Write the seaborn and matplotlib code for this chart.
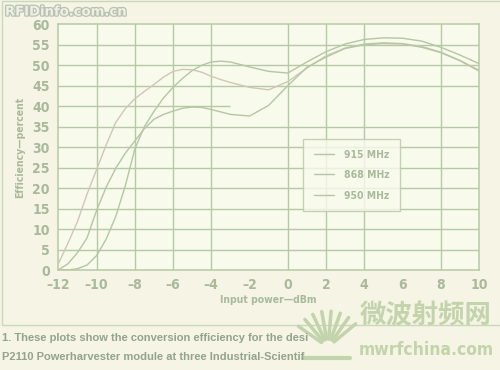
import numpy as np
import pandas as pd
import seaborn as sns
import matplotlib
matplotlib.use("Agg")
import matplotlib.pyplot as plt
import matplotlib.patheffects as pe
from matplotlib.patches import Rectangle
from matplotlib import font_manager

# input power (dBm) sample points
power = [-12, -11.5, -11, -10.5, -10, -9.5, -9, -8.5, -8, -7.5, -7, -6.5, -6,
         -5.5, -5, -4.5, -4, -3.5, -3, -2, -1, 0, 1, 2, 3, 4, 5, 6, 7, 8, 9, 10]

eff_915 = [0, 0, 0.3, 1.2, 3.5, 7.5, 13, 20.5, 29.5, 35, 38.7, 42, 44.6,
           46.8, 48.7, 50, 50.8, 51, 50.8, 49.6, 48.5, 48.1, 50.8, 53.3, 55.2,
           56.3, 56.7, 56.6, 55.9, 54.4, 52.5, 50.4]
eff_868 = [1.5, 6.5, 11.8, 18.5, 24.5, 30.5, 36, 39.4, 41.8, 43.6, 45.3, 47.1, 48.5,
           49, 48.9, 48.3, 47.3, 46.5, 45.8, 44.6, 44.0, 46.0, 49.3, 52.3, 54.2,
           55.2, 55.5, 55.3, 54.6, 53.2, 51.2, 48.8]
eff_950 = [0, 1.5, 4.2, 7.8, 14.5, 20.2, 24.8, 28.5, 31.5, 34.5, 36.8, 38, 38.8,
           39.5, 39.8, 39.7, 39.2, 38.6, 38.0, 37.6, 40.2, 45.0, 49.5, 52.0, 54.1,
           55.0, 55.3, 55.2, 54.4, 53.1, 51.1, 48.6]

labels = ["915 MHz", "868 MHz", "950 MHz"]
x_ticks = [-12, -10, -8, -6, -4, -2, 0, 2, 4, 6, 8, 10]
x_tick_labels = ["\u201312", "\u201310", "\u20138", "\u20136", "\u20134", "\u20132",
                 "0", "2", "4", "6", "8", "10"]
y_ticks = list(range(0, 65, 5))

df = pd.concat([
    pd.DataFrame({"power": power, "eff": eff_915, "freq": labels[0]}),
    pd.DataFrame({"power": power, "eff": eff_868, "freq": labels[1]}),
    pd.DataFrame({"power": power, "eff": eff_950, "freq": labels[2]}),
])

outer_bg = "#f5f4e5"
plot_bg = "#f8faec"
grid_c = "#b6c9a6"
text_c = "#a9b99b"
palette = {labels[0]: "#b4c6a4", labels[1]: "#cfc7b6", labels[2]: "#b4c6a4"}

sns.set_style("white")
plt.rcParams["font.family"] = ["DejaVu Sans"]
plt.rcParams["font.stretch"] = "condensed"
narrow = font_manager.FontProperties(family="DejaVu Sans", stretch="condensed", weight="bold")

fig = plt.figure(figsize=(5, 3.7), dpi=100, facecolor=outer_bg)
ax = fig.add_axes([58.3 / 500, 1 - 270 / 370, (479 - 58.3) / 500, (270 - 24.3) / 370])
ax.set_facecolor(plot_bg)

# grid drawn by hand: the reference skips a few lines
for xv in [-10, -8, -6, -4, 0, 2, 4, 8]:
    ax.axvline(xv, color=grid_c, lw=1.0, zorder=1)
for yv in [5, 10, 15, 20, 25, 30, 35, 45, 50, 55]:
    ax.axhline(yv, color=grid_c, lw=1.0, zorder=1)
ax.hlines(40, -12, -3, color=grid_c, lw=1.0, zorder=1)

sns.lineplot(data=df, x="power", y="eff", hue="freq", palette=palette,
             estimator=None, linewidth=1.0, ax=ax, zorder=3)

ax.set_xlim(-12, 10)
ax.set_ylim(0, 60)
ax.set_xticks(x_ticks)
ax.set_xticklabels(x_tick_labels)
ax.set_yticks(y_ticks)
ax.tick_params(length=0, pad=6, labelcolor=text_c)
for t in ax.get_xticklabels() + ax.get_yticklabels():
    t.set_fontproperties(narrow)
    t.set_fontsize(10)
for s in ax.spines.values():
    s.set_color(grid_c)
    s.set_linewidth(1.1)

ax.set_xlabel("Input power\u2014dBm", fontsize=7.5, color=text_c, fontweight="bold",
              fontstretch="condensed", labelpad=2)
ax.set_ylabel("Efficiency\u2014percent", fontsize=7.5, color=text_c, fontweight="bold",
              fontstretch="condensed", labelpad=5)

leg = ax.legend(loc="upper left", bbox_to_anchor=(0.582, 0.532), frameon=True,
                fancybox=False, prop=font_manager.FontProperties(
                    family="DejaVu Sans", stretch="condensed", weight="bold", size=7.5),
                handlelength=2.0, handletextpad=0.9,
                labelspacing=1.0, borderpad=1.0, borderaxespad=0)
leg.get_frame().set_edgecolor(grid_c)
leg.get_frame().set_facecolor(plot_bg)
leg.get_frame().set_linewidth(1.0)
for t in leg.get_texts():
    t.set_color(text_c)
for h in leg.get_lines():
    h.set_color("#b4c6a4")

# frame around the figure block
fig.patches.append(Rectangle((2 / 500, 1 - 325 / 370), 0.999, 324 / 370,
                             transform=fig.transFigure, fill=False,
                             edgecolor="#ccd8bc", lw=1.0, zorder=0))

# caption (cut off by the logo in the reference)
cap_c = "#93a38c"
fig.text(2 / 500, 1 - 338 / 370, "1. These plots show the conversion efficiency for the desi",
         fontsize=8, color=cap_c, fontweight="bold", va="center",
         family=["Liberation Sans", "DejaVu Sans"])
fig.text(2 / 500, 1 - 357 / 370, "P2110 Powerharvester module at three Industrial-Scientif",
         fontsize=8, color=cap_c, fontweight="bold", va="center",
         family=["Liberation Sans", "DejaVu Sans"])

# watermarks
fig.text(5 / 500, 1 - 12 / 370, "RFIDinfo.com.cn", fontsize=9.5, fontweight="bold",
         fontstretch="normal", color="#eef0e6", va="center", family=["DejaVu Sans"],
         path_effects=[pe.withStroke(linewidth=1.8, foreground="#b9c2b0")])
logo_c = "#c3d3ab"
fig.text(426 / 500, 1 - 316 / 370, "微波射频网", fontsize=19, fontweight="bold",
         color=logo_c, ha="center", va="center",
         family=["Noto Sans CJK SC", "DejaVu Sans"])
fig.text(426 / 500, 1 - 350 / 370, "mwrfchina.com", fontsize=12.5, fontweight="bold",
         color=logo_c, ha="center", va="center", family=["DejaVu Sans"],
         fontstretch="condensed")
# sunburst part of the logo
for ang in [40, 55, 70, 85, 100, 115, 130, 145]:
    r = np.deg2rad(ang)
    x0, y0 = 328 + 8 * np.cos(r), 347 - 8 * np.sin(r)
    x1, y1 = 328 + 36 * np.cos(r), 347 - 36 * np.sin(r)
    fig.add_artist(plt.Line2D([x0 / 500, x1 / 500], [1 - y0 / 370, 1 - y1 / 370],
                              transform=fig.transFigure, color=logo_c, lw=2.5))
fig.add_artist(plt.Line2D([303 / 500, 350 / 500], [1 - 358 / 370, 1 - 358 / 370],
                          transform=fig.transFigure, color=logo_c, lw=3))

fig.savefig("out.png", dpi=100, facecolor=outer_bg)
